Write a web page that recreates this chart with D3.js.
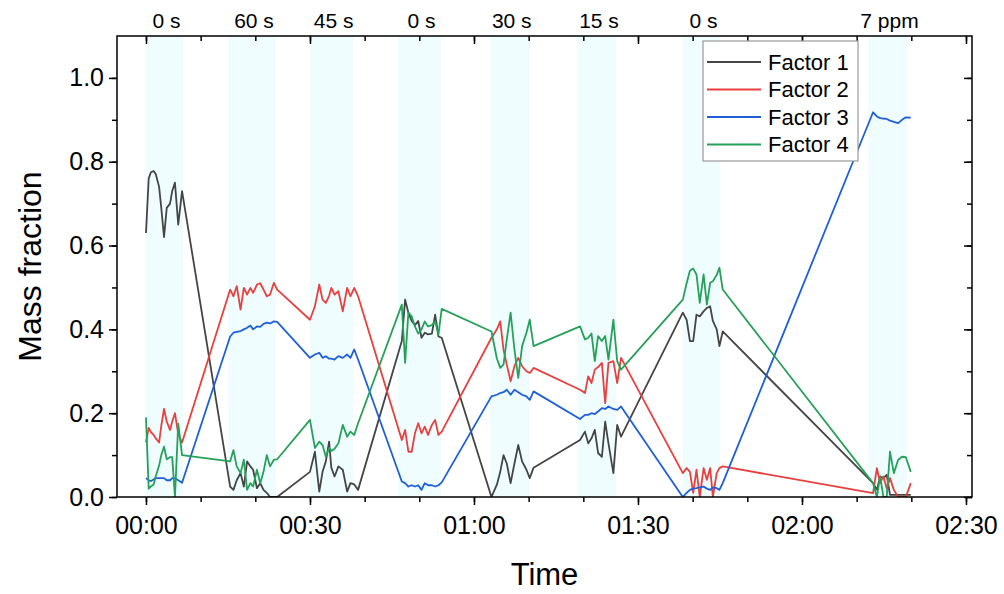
<!DOCTYPE html>
<html lang="en">
<head>
    <meta charset="UTF-8">
    <script src="https://d3js.org/d3.v7.min.js" charset="utf-8"></script>
    <title>Mass fraction</title>
    <style>
        body { margin: 0; background: #fff; }
        svg text { font-family: "Liberation Sans", Arial, sans-serif; fill: #000; }
    </style>
</head>
<body>
<div id="chart"></div>
<script>
    // time since start, in minutes
    const time = [
        0, 0.5, 0.9, 1.4, 1.8, 2.4, 2.8, 3.3, 3.8, 4.4, 4.8, 5.3, 5.9, 6.6,
        15.4, 16.0, 16.6, 17.3, 17.9, 18.5, 19.1, 19.6, 20.3, 20.9, 21.5, 22.1, 22.7, 23.4, 24.0,
        30.0, 30.9, 31.7, 32.3, 32.9, 33.5, 33.9, 34.5, 35.2, 36.0, 36.8, 37.4, 38.1, 38.8,
        46.8, 47.4, 48.0, 48.6, 49.2, 49.8, 50.4, 51.0, 51.6, 52.3, 52.9, 53.5, 54.1,
        63.2, 64.2, 64.8, 65.4, 66.0, 66.7, 67.4, 68.1, 68.8, 69.6, 70.2, 70.9,
        79.4, 80.3, 80.9, 81.5, 82.1, 82.7, 83.4, 84.0, 84.6, 85.5, 86.2, 86.9,
        98.2, 98.9, 99.5, 100.1, 100.7, 101.3, 102.0, 102.6, 103.2, 103.7, 104.4, 104.9, 105.5,
        133.0, 133.7, 134.3, 134.9, 135.5, 136.1, 136.8, 137.6, 138.3, 139.0, 139.9
    ];

    const factor1 = [
        0.63, 0.76, 0.775, 0.778, 0.77, 0.74, 0.69, 0.62, 0.69, 0.70, 0.73, 0.75, 0.65, 0.73,
        0.025, 0.017, 0.04, 0.057, 0.025, 0.085, 0.073, 0.065, 0.021, 0.033, 0.017, 0.01, 0.0, 0.0, 0.0,
        0.06, 0.108, 0.013, 0.06, 0.085, 0.132, 0.07, 0.049, 0.073, 0.065, 0.013, 0.033, 0.03, 0.017,
        0.372, 0.471, 0.44, 0.42, 0.41, 0.42, 0.38, 0.392, 0.388, 0.39, 0.435, 0.383, 0.38,
        0.0, 0.03, 0.06, 0.10, 0.08, 0.033, 0.08, 0.124, 0.085, 0.065, 0.045, 0.07,
        0.136, 0.156, 0.128, 0.14, 0.16, 0.105, 0.096, 0.18, 0.128, 0.057, 0.172, 0.144,
        0.44, 0.423, 0.372, 0.372, 0.435, 0.431, 0.443, 0.451, 0.455, 0.42, 0.40, 0.36, 0.395,
        0.033, 0.017, 0.049, 0.045, 0.053, 0.005, 0.005, 0.005, 0.005, 0.005, 0.005
    ];

    const factor2 = [
        0.13, 0.165, 0.155, 0.148, 0.14, 0.13, 0.17, 0.21, 0.18, 0.16, 0.18, 0.20, 0.15, 0.13,
        0.495, 0.479, 0.503, 0.447, 0.499, 0.483, 0.499, 0.487, 0.507, 0.51, 0.495, 0.479, 0.483, 0.511, 0.495,
        0.423, 0.455, 0.507, 0.471, 0.463, 0.48, 0.499, 0.483, 0.491, 0.443, 0.499, 0.479, 0.499, 0.479,
        0.136, 0.16, 0.108, 0.108, 0.152, 0.176, 0.152, 0.168, 0.148, 0.172, 0.184, 0.148, 0.156,
        0.38, 0.40, 0.419, 0.352, 0.316, 0.276, 0.312, 0.332, 0.312, 0.30, 0.296, 0.308,
        0.256, 0.248, 0.288, 0.272, 0.304, 0.31, 0.32, 0.224, 0.32, 0.324, 0.272, 0.332,
        0.057, 0.069, 0.06, 0.01, 0.065, 0.0, 0.069, 0.041, 0.069, 0.0, 0.057, 0.069, 0.073,
        0.009, 0.069, 0.033, 0.049, 0.02, 0.045, 0.017, 0.0, 0.0, 0.0, 0.033
    ];

    const factor3 = [
        0.045, 0.04, 0.038, 0.042, 0.045, 0.045, 0.045, 0.045, 0.04, 0.04, 0.045, 0.045, 0.04, 0.034,
        0.383, 0.392, 0.394, 0.396, 0.40, 0.404, 0.409, 0.40, 0.407, 0.406, 0.413, 0.416, 0.414, 0.419, 0.418,
        0.332, 0.34, 0.344, 0.332, 0.336, 0.33, 0.33, 0.328, 0.336, 0.332, 0.34, 0.332, 0.352, 0.328,
        0.037, 0.033, 0.025, 0.028, 0.025, 0.028, 0.017, 0.033, 0.028, 0.028, 0.025, 0.028, 0.035,
        0.24, 0.244, 0.248, 0.25, 0.256, 0.244, 0.256, 0.25, 0.244, 0.24, 0.232, 0.252,
        0.186, 0.196, 0.196, 0.20, 0.198, 0.204, 0.212, 0.21, 0.216, 0.21, 0.208, 0.216,
        0.0, 0.01, 0.017, 0.02, 0.021, 0.023, 0.025, 0.02, 0.017, 0.023, 0.021, 0.017, 0.033,
        0.918, 0.908, 0.904, 0.903, 0.902, 0.898, 0.895, 0.892, 0.90, 0.906, 0.905
    ];

    const factor4 = [
        0.19, 0.02, 0.025, 0.03, 0.05, 0.075, 0.10, 0.12, 0.09, 0.095, 0.095, 0.0, 0.175, 0.10,
        0.085, 0.112, 0.073, 0.057, 0.089, 0.017, 0.033, 0.025, 0.065, 0.033, 0.06, 0.1, 0.073, 0.089, 0.09,
        0.184, 0.117, 0.132, 0.124, 0.096, 0.117, 0.11, 0.115, 0.128, 0.172, 0.144, 0.156, 0.148, 0.176,
        0.459, 0.32, 0.44, 0.431, 0.407, 0.39, 0.40, 0.419, 0.407, 0.41, 0.419, 0.388, 0.449,
        0.395, 0.33, 0.308, 0.316, 0.376, 0.44, 0.352, 0.284, 0.36, 0.392, 0.423, 0.36,
        0.407, 0.376, 0.38, 0.39, 0.324, 0.384, 0.372, 0.384, 0.328, 0.423, 0.324, 0.304,
        0.471, 0.51, 0.54, 0.545, 0.531, 0.463, 0.531, 0.459, 0.511, 0.515, 0.53, 0.547, 0.495,
        0.033, 0.0, 0.049, 0.0, 0.0, 0.108, 0.057, 0.089, 0.096, 0.095, 0.06
    ];

    const seriesNames = ["Factor 1", "Factor 2", "Factor 3", "Factor 4"];
    const seriesColors = ["#454545", "#e8403e", "#1f5fd8", "#27a05a"];

    // shaded sampling periods (minutes) and their top labels
    const bandStart = [0, 15, 30, 46.1, 62.9, 79, 98.2, 132.1];
    const bandEnd = [6.8, 23.8, 37.9, 54, 70.2, 86, 105, 139.2];
    const bandLabels = ["0 s", "60 s", "45 s", "0 s", "30 s", "15 s", "0 s", "7 ppm"];

    const xMajor = [0, 30, 60, 90, 120, 150];
    const xMinor = d3.range(0, 151, 10);
    const yMajor = [0, 0.2, 0.4, 0.6, 0.8, 1.0];
    const yMinor = d3.range(0, 1.05, 0.1);

    const width = 1004;
    const height = 594;
    const margin = {top: 36, right: 32, bottom: 97, left: 117};

    const svg = d3.select("#chart").append("svg")
        .attr("width", width)
        .attr("height", height);

    const x = d3.scaleLinear()
        .domain([-5.3, 151.1])
        .range([margin.left, width - margin.right]);
    const y = d3.scaleLinear()
        .domain([0, 1.1])
        .range([height - margin.bottom, margin.top]);

    const fmtTime = d => String(Math.floor(d / 60)).padStart(2, "0") + ":" + String(d % 60).padStart(2, "0");

    // shaded periods
    svg.append("g").selectAll("rect")
        .data(bandStart)
        .enter()
        .append("rect")
        .attr("x", (d, i) => x(d))
        .attr("width", (d, i) => x(bandEnd[i]) - x(d))
        .attr("y", margin.top)
        .attr("height", height - margin.bottom - margin.top)
        .attr("fill", "#effdff");

    // top labels over each period
    svg.append("g").selectAll("text")
        .data(bandLabels)
        .enter()
        .append("text")
        .attr("x", (d, i) => x((bandStart[i] + bandEnd[i]) / 2) + 2)
        .attr("y", 28)
        .attr("text-anchor", "middle")
        .style("font-size", "21px")
        .text(d => d);

    // lines
    svg.append("clipPath").attr("id", "plot-clip")
        .append("rect")
        .attr("x", margin.left)
        .attr("y", margin.top)
        .attr("width", width - margin.left - margin.right)
        .attr("height", height - margin.top - margin.bottom);

    const allSeries = [factor1, factor2, factor3, factor4];
    const line = d3.line()
        .x(d => x(d.t))
        .y(d => y(d.v));

    svg.append("g")
        .attr("clip-path", "url(#plot-clip)")
        .selectAll("path")
        .data(allSeries)
        .enter()
        .append("path")
        .attr("d", vals => line(time.map((t, i) => ({t: t, v: vals[i]}))))
        .attr("fill", "none")
        .attr("stroke", (d, i) => seriesColors[i])
        .attr("stroke-width", 1.8)
        .attr("stroke-linejoin", "round");

    // axes
    const bottomY = height - margin.bottom;
    const rightX = width - margin.right;

    const drawAxis = (axis, transform) => {
        const g = svg.append("g").attr("transform", transform).call(axis);
        g.select(".domain").remove();
        g.selectAll("line").attr("stroke", "#000").attr("stroke-width", 1.5);
        g.selectAll("text").style("font-size", "25px").attr("font-family", null);
        return g;
    };

    drawAxis(d3.axisBottom(x).tickValues(xMinor).tickFormat("").tickSize(5), `translate(0,${bottomY})`);
    drawAxis(d3.axisBottom(x).tickValues(xMajor).tickFormat(fmtTime).tickSize(8).tickPadding(11), `translate(0,${bottomY})`);

    drawAxis(d3.axisTop(x).tickValues(xMinor).tickFormat("").tickSize(-5), `translate(0,${margin.top})`);
    drawAxis(d3.axisTop(x).tickValues(xMajor).tickFormat("").tickSize(-8), `translate(0,${margin.top})`);

    drawAxis(d3.axisLeft(y).tickValues(yMinor).tickFormat("").tickSize(5), `translate(${margin.left},0)`);
    drawAxis(d3.axisLeft(y).tickValues(yMajor).tickFormat(d3.format(".1f")).tickSize(8).tickPadding(5), `translate(${margin.left},0)`);

    drawAxis(d3.axisRight(y).tickValues(yMinor).tickFormat("").tickSize(-5), `translate(${rightX},0)`);
    drawAxis(d3.axisRight(y).tickValues(yMajor).tickFormat("").tickSize(-8), `translate(${rightX},0)`);

    // frame
    svg.append("rect")
        .attr("x", margin.left)
        .attr("y", margin.top)
        .attr("width", rightX - margin.left)
        .attr("height", bottomY - margin.top)
        .attr("fill", "none")
        .attr("stroke", "#000")
        .attr("stroke-width", 1.5);

    // axis titles
    svg.append("text")
        .attr("transform", `translate(41,${(margin.top + bottomY) / 2}) rotate(-90)`)
        .attr("text-anchor", "middle")
        .style("font-size", "32px")
        .text("Mass fraction");

    svg.append("text")
        .attr("x", (margin.left + rightX) / 2)
        .attr("y", 585)
        .attr("text-anchor", "middle")
        .style("font-size", "31px")
        .text("Time");

    // legend
    const legend = svg.append("g").attr("transform", "translate(703,41)");
    legend.append("rect")
        .attr("width", 155)
        .attr("height", 120)
        .attr("fill", "#fff")
        .attr("stroke", "#9a9a9a")
        .attr("stroke-width", 1.2);

    const entry = legend.selectAll("g.entry")
        .data(seriesNames)
        .enter()
        .append("g")
        .attr("class", "entry")
        .attr("transform", (d, i) => `translate(0,${21 + i * 27.5})`);

    entry.append("line")
        .attr("x1", 4)
        .attr("x2", 58)
        .attr("stroke", (d, i) => seriesColors[i])
        .attr("stroke-width", 1.8);

    entry.append("text")
        .attr("x", 65)
        .attr("dy", "0.35em")
        .style("font-size", "22px")
        .text(d => d);
</script>
</body>
</html>
